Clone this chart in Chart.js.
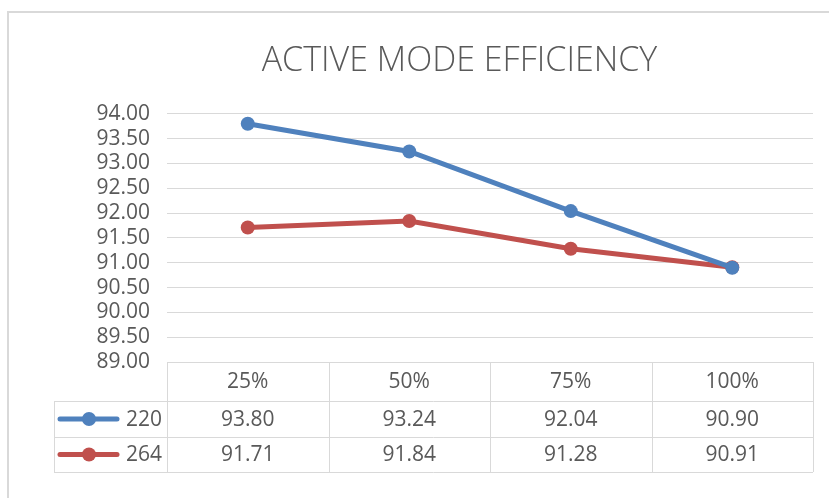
<!DOCTYPE html>
<html>
<head>
<meta charset="utf-8">
<script src="https://cdn.jsdelivr.net/npm/chart.js@4"></script>
<style>
  html, body { margin: 0; padding: 0; background: #fff; }
  #wrap { width: 829px; height: 498px; }
</style>
</head>
<body>
<div id="wrap"><canvas id="chart-efficiency" width="829" height="498"></canvas></div>
<script>
function $id(id) { return document.getElementById(id); }

const loadLabels = ["25%", "50%", "75%", "100%"];
const series220 = [93.80, 93.24, 92.04, 90.90];
const series264 = [91.71, 91.84, 91.28, 90.91];
const seriesNames = ["220", "264"];
const seriesColors = ["#4F81BD", "#C0504D"];

const fontFace = "'Open Sans', sans-serif";
const textColor = "#595959";
const lineGray = "#D9D9D9";

// outer frame + the excel style data table under the plot
const dataTablePlugin = {
    id: "dataTable",
    afterLayout(chart) {
        // excel centres the title a bit to the right
        if (chart.titleBlock) chart.titleBlock.left += 106;
    },
    beforeDraw(chart) {
        const ctx = chart.ctx;
        ctx.save();
        ctx.strokeStyle = lineGray;
        ctx.lineWidth = 2;
        ctx.strokeRect(8, 12, 900, 600);
        ctx.restore();
    },
    afterDraw(chart) {
        const ctx = chart.ctx;
        const area = chart.chartArea;
        const xs = chart.scales.x;
        const n = loadLabels.length;
        const colW = (area.right - area.left) / n;
        const rows = [area.bottom, area.bottom + 39, area.bottom + 75, area.bottom + 110];
        const keyLeft = 54;

        ctx.save();
        ctx.strokeStyle = lineGray;
        ctx.lineWidth = 1;
        ctx.beginPath();
        ctx.moveTo(area.left, rows[0] + 0.5); ctx.lineTo(area.right, rows[0] + 0.5);
        for (let r = 1; r < rows.length; r++) {
            ctx.moveTo(keyLeft, rows[r] + 0.5); ctx.lineTo(area.right, rows[r] + 0.5);
        }
        for (let i = 0; i <= n; i++) {
            const x = Math.round(area.left + i * colW) + 0.5;
            ctx.moveTo(x, rows[0]); ctx.lineTo(x, rows[3]);
        }
        ctx.moveTo(keyLeft + 0.5, rows[1]); ctx.lineTo(keyLeft + 0.5, rows[3]);
        ctx.stroke();

        ctx.fillStyle = textColor;
        ctx.font = "21px " + fontFace;
        ctx.textAlign = "center";
        ctx.textBaseline = "middle";
        loadLabels.forEach((lab, i) => {
            ctx.fillText(lab, xs.getPixelForValue(i), (rows[0] + rows[1]) / 2 + 1);
        });

        chart.data.datasets.forEach((ds, d) => {
            const cy = (rows[d + 1] + rows[d + 2]) / 2;
            ds.data.forEach((v, i) => {
                ctx.fillStyle = textColor;
                ctx.textAlign = "center";
                ctx.fillText(v.toFixed(2), xs.getPixelForValue(i), cy + 1);
            });
            // legend key
            ctx.strokeStyle = ds.borderColor;
            ctx.lineWidth = 5;
            ctx.lineCap = "round";
            ctx.beginPath();
            ctx.moveTo(60, cy); ctx.lineTo(117, cy);
            ctx.stroke();
            ctx.fillStyle = ds.borderColor;
            ctx.beginPath();
            ctx.arc(89, cy, 7, 0, Math.PI * 2);
            ctx.fill();
            ctx.fillStyle = textColor;
            ctx.textAlign = "right";
            ctx.fillText(ds.label, 162, cy + 1);
        });
        ctx.restore();
    }
};

window.chartEfficiency = new Chart($id("chart-efficiency"), {
    type: "line",
    data: {
        labels: loadLabels,
        datasets: [
            {
                label: seriesNames[0],
                data: series220,
                borderColor: seriesColors[0],
                backgroundColor: seriesColors[0],
                borderWidth: 5,
                pointRadius: 7,
                pointBorderWidth: 0,
                tension: 0
            },
            {
                label: seriesNames[1],
                data: series264,
                borderColor: seriesColors[1],
                backgroundColor: seriesColors[1],
                borderWidth: 5,
                pointRadius: 7,
                pointBorderWidth: 0,
                tension: 0
            }
        ]
    },
    options: {
        responsive: false,
        animation: false,
        layout: { padding: { left: 0, right: 16, top: 0, bottom: 136 } },
        plugins: {
            legend: { display: false },
            tooltip: { enabled: false },
            title: {
                display: true,
                text: "ACTIVE MODE EFFICIENCY",
                color: textColor,
                font: { family: fontFace, size: 34, weight: "300", lineHeight: 1.2 },
                padding: { top: 41, bottom: 32 }
            }
        },
        scales: {
            x: {
                display: false,
                offset: true
            },
            y: {
                min: 89,
                max: 94,
                border: { display: false },
                grid: { color: lineGray, lineWidth: 1, drawTicks: false },
                ticks: {
                    stepSize: 0.5,
                    autoSkip: false,
                    padding: 17,
                    color: textColor,
                    font: { family: fontFace, size: 21 },
                    callback: (v) => Number(v).toFixed(2)
                },
                afterFit: (scale) => { scale.width = 167; }
            }
        }
    },
    plugins: [dataTablePlugin]
});
</script>
</body>
</html>
